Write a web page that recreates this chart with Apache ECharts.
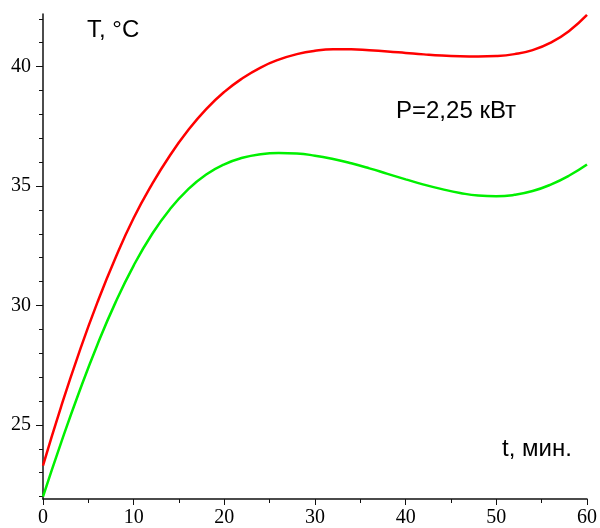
<!DOCTYPE html>
<html>
<head>
<meta charset="utf-8">
<script src="https://cdn.jsdelivr.net/npm/echarts@6/dist/echarts.min.js"></script>
<style>
  html, body { margin: 0; padding: 0; background: #fff; }
  #chart { width: 600px; height: 528px; }
</style>
</head>
<body>
<div id="chart"></div>
<script>
// ---- data ----
var tValues = [0, 2, 4, 6, 8, 10, 12, 14, 16, 18, 20, 22, 24, 26, 28, 30, 32, 34, 36, 38, 40, 42, 44, 46, 48, 50, 52, 54, 56, 58, 60];
var redValues = [23.3, 25.77, 28.05, 30.13, 32.0, 33.66, 35.06, 36.28, 37.33, 38.22, 38.94, 39.51, 39.96, 40.29, 40.52, 40.66, 40.72, 40.72, 40.68, 40.63, 40.57, 40.51, 40.46, 40.43, 40.42, 40.44, 40.52, 40.69, 41.0, 41.48, 42.16];
var greenValues = [22.0, 24.26, 26.39, 28.36, 30.13, 31.67, 32.97, 34.03, 34.86, 35.48, 35.91, 36.18, 36.33, 36.38, 36.36, 36.27, 36.13, 35.95, 35.74, 35.51, 35.28, 35.06, 34.87, 34.71, 34.6, 34.57, 34.63, 34.79, 35.06, 35.43, 35.9];
var xTickLabels = [0, 10, 20, 30, 40, 50, 60];
var yTickLabels = [25, 30, 35, 40];
var yMinorTicks = [22, 23, 24, 25, 26, 27, 28, 29, 30, 31, 32, 33, 34, 35, 36, 37, 38, 39, 40, 41, 42];
var texts = { yName: 'T, °C', xName: 't, мин.', power: 'P=2,25 кВт' };

var redData = tValues.map(function (t, i) { return [t, redValues[i]]; });
var greenData = tValues.map(function (t, i) { return [t, greenValues[i]]; });

var chart = echarts.init(document.getElementById('chart'), null, { renderer: 'canvas' });
var yMin = 21.9, yMax = 42.2;
var labelFont = { fontFamily: '"Liberation Serif", "Times New Roman", serif', fontSize: 20, color: '#000' };

chart.setOption({
  animation: false,
  backgroundColor: '#fff',
  grid: { left: 43, right: 12, top: 14, bottom: 28, containLabel: false },
  xAxis: {
    type: 'value', min: 0, max: 60, interval: 10,
    axisLine: { show: true, onZero: false, lineStyle: { color: '#111', width: 1.5 } },
    axisTick: { show: true, inside: false, length: 6, lineStyle: { color: '#111', width: 1 } },
    minorTick: { show: true, splitNumber: 2, length: 4, lineStyle: { color: '#111', width: 1 } },
    axisLabel: Object.assign({ margin: 9, customValues: xTickLabels }, labelFont),
    splitLine: { show: false }
  },
  yAxis: [{
    type: 'value', min: yMin, max: yMax,
    axisLine: { show: true, onZero: false, lineStyle: { color: '#111', width: 1.5 } },
    axisTick: { show: true, inside: false, length: 7, customValues: yTickLabels, lineStyle: { color: '#111', width: 1 } },
    axisLabel: Object.assign({ margin: 12, customValues: yTickLabels }, labelFont),
    splitLine: { show: false }
  }, {
    type: 'value', min: yMin, max: yMax, position: 'left',
    axisLine: { show: false },
    axisTick: { show: true, inside: false, length: 4, customValues: yMinorTicks, lineStyle: { color: '#111', width: 1 } },
    axisLabel: { show: false },
    splitLine: { show: false }
  }],
  series: [{
    type: 'line', data: redData, yAxisIndex: 0, smooth: true, showSymbol: false,
    lineStyle: { color: '#ff0000', width: 2.5 }, z: 3
  }, {
    type: 'line', data: greenData, yAxisIndex: 0, smooth: true, showSymbol: false,
    lineStyle: { color: '#00f000', width: 2.5 }, z: 2
  }],
  graphic: [
    { type: 'text', left: 87, top: 18, style: { text: texts.yName, font: '24px "Liberation Sans", Arial, sans-serif', fill: '#000' } },
    { type: 'text', left: 396, top: 99, style: { text: texts.power, font: '24px "Liberation Sans", Arial, sans-serif', fill: '#000' } },
    { type: 'text', left: 502, top: 437, style: { text: texts.xName, font: '24px "Liberation Sans", Arial, sans-serif', fill: '#000' } }
  ]
});
</script>
</body>
</html>
